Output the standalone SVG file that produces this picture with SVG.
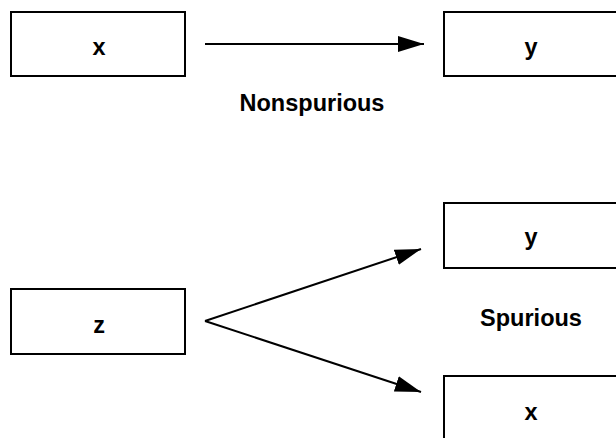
<svg xmlns="http://www.w3.org/2000/svg" width="616" height="438" viewBox="0 0 616 438">
<defs>
<style>
.box{fill:#fff;stroke:#000;stroke-width:2}
.lbl{font-family:"Liberation Sans",Arial,sans-serif;font-weight:bold;font-size:23.5px;text-anchor:middle;fill:#000}
.edge{stroke:#000;stroke-width:2;fill:none}
</style>
<marker id="ah" viewBox="0 0 26 16" refX="26" refY="8" markerWidth="26" markerHeight="16" markerUnits="userSpaceOnUse" orient="auto">
<path d="M0,0 L26,8 L0,16 Z" fill="#000"/>
</marker>
</defs>
<rect width="616" height="438" fill="#fff"/>
<g id="node-x1"><rect class="box" x="11" y="12" width="174" height="64"/><text class="lbl" x="99" y="55">x</text></g>
<g id="node-y1"><rect class="box" x="444" y="12" width="180" height="64"/><text class="lbl" x="531" y="55">y</text></g>
<g id="node-z"><rect class="box" x="11" y="289" width="174" height="65"/><text class="lbl" x="99" y="333">z</text></g>
<g id="node-y2"><rect class="box" x="444" y="203" width="180" height="65"/><text class="lbl" x="531" y="245">y</text></g>
<g id="node-x2"><rect class="box" x="444" y="376" width="180" height="80"/><text class="lbl" x="531" y="420">x</text></g>
<g id="connectors">
<line class="edge" x1="205" y1="44" x2="424" y2="44" marker-end="url(#ah)"/>
<line class="edge" x1="205" y1="321" x2="421" y2="249" marker-end="url(#ah)"/>
<line class="edge" x1="205" y1="321" x2="421" y2="392" marker-end="url(#ah)"/>
</g>
<text class="lbl" x="312" y="111">Nonspurious</text>
<text class="lbl" x="531" y="326">Spurious</text>
</svg>
